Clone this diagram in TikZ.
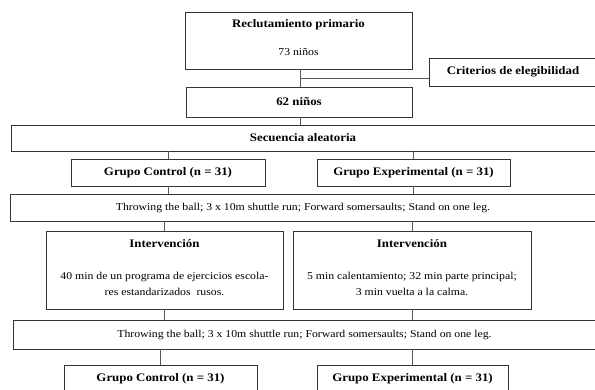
\documentclass[tikz,border=0pt]{standalone}
\usepackage{fontspec}
\setmainfont[FakeStretch=1.12]{Liberation Serif}
\begin{document}
\begin{tikzpicture}[x=1pt,y=-1pt,
  box/.style={draw=black!80, line width=0.8pt, fill=white, rectangle, inner sep=0pt, align=center},
  bf/.style={font=\fontsize{11.5}{13}\selectfont\bfseries},
  ttl/.style={bf, inner sep=0pt},
  txt/.style={font=\fontsize{10.5}{16}\selectfont, inner sep=0pt, align=center},
  conn/.style={draw=black!65, line width=0.8pt}]
\useasboundingbox (0,0) rectangle (595,389);
% boxes
\node[box, minimum width=227pt, minimum height=57pt] (rec) at (298.5,40.5) {};
\node[ttl] (rect) at (298.5,25) {Reclutamiento primario};
\node[txt] (recn) at (298.5,52) {73 niños};
\node[box, bf, minimum width=168pt, minimum height=28pt] (crit) at (513,72) {Criterios de elegibilidad};
\node[box, bf, minimum width=226pt, minimum height=30pt] (n62) at (299,102) {62 niños};
\node[box, bf, minimum width=584pt, minimum height=26pt] (sec) at (303,138) {Secuencia aleatoria};
\node[box, bf, minimum width=194pt, minimum height=27pt] (gc) at (168,172.5) {Grupo Control (n = 31)};
\node[box, bf, minimum width=193pt, minimum height=27pt] (ge) at (413.5,172.5) {Grupo Experimental (n = 31)};
\node[box, minimum width=586pt, minimum height=27pt, font=\fontsize{10.5}{13}\selectfont] (thr1) at (303,207.5) {Throwing the ball; 3 x 10m shuttle run; Forward somersaults; Stand on one leg.};
\node[box, minimum width=237pt, minimum height=78pt] (intl) at (164.5,270) {};
\node[ttl] (intlt) at (164.5,244) {Intervención};
\node[txt] (intlb) at (164.5,284) {40 min de un programa de ejercicios escola-\\res estandarizados\ \ rusos.};
\node[box, minimum width=238pt, minimum height=78pt] (intr) at (412,270) {};
\node[ttl] (intrt) at (412,244) {Intervención};
\node[txt] (intrb) at (412,284) {5 min calentamiento; 32 min parte principal;\\3 min vuelta a la calma.};
\node[box, minimum width=583pt, minimum height=29pt, font=\fontsize{10.5}{13}\selectfont] (thr2) at (304.5,334.5) {Throwing the ball; 3 x 10m shuttle run; Forward somersaults; Stand on one leg.};
\node[box, bf, minimum width=193pt, minimum height=27pt] (gc2) at (160.5,378.5) {Grupo Control (n = 31)};
\node[box, bf, minimum width=191pt, minimum height=27pt] (ge2) at (412.5,378.5) {Grupo Experimental (n = 31)};
% connectors
\coordinate (br) at (300,78);
\draw[conn] (rec.south -| br) -- (n62.north -| br);
\draw[conn] (br) -- (crit.west |- br);
\draw[conn] (n62.south -| br) -- (sec.north -| br);
\draw[conn] (sec.south -| gc.north) -- (gc.north);
\draw[conn] (sec.south -| ge.north) -- (ge.north);
\draw[conn] (gc.south) -- (gc.south |- thr1.north);
\draw[conn] (ge.south) -- (ge.south |- thr1.north);
\draw[conn] (thr1.south -| intl.north) -- (intl.north);
\draw[conn] (thr1.south -| intr.north) -- (intr.north);
\draw[conn] (intl.south) -- (intl.south |- thr2.north);
\draw[conn] (intr.south) -- (intr.south |- thr2.north);
\draw[conn] (thr2.south -| gc2.north) -- (gc2.north);
\draw[conn] (thr2.south -| ge2.north) -- (ge2.north);
\end{tikzpicture}
\end{document}
